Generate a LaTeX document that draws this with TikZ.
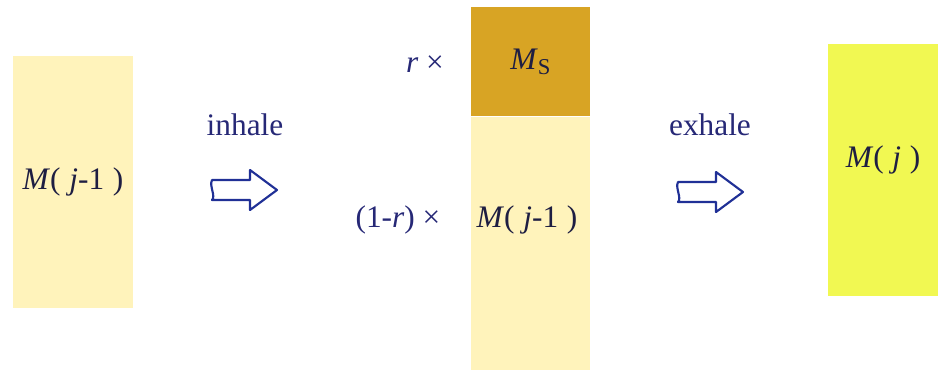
\documentclass[tikz,border=0pt]{standalone}
\usepackage{fontspec}
\setmainfont{Liberation Serif}
\usetikzlibrary{positioning}

\definecolor{paleyellow}{RGB}{255,243,187}
\definecolor{goldbox}{RGB}{216,164,36}
\definecolor{limeyellow}{RGB}{241,248,82}
\definecolor{labelblue}{RGB}{38,40,118}
\definecolor{mathnavy}{RGB}{30,30,66}
\definecolor{arrowblue}{RGB}{32,48,150}

\tikzset{
  block/.style={inner sep=0pt,font=\fontsize{23.5}{28}\selectfont,text=mathnavy},
  tag/.style={inner sep=0pt,font=\fontsize{23.5}{28}\selectfont,text=labelblue},
  fatarrow/.pic={
    \draw[arrowblue,line width=1.6pt,line join=round,fill=white]
      (-32,-10) -- (6,-10) -- (6,-20) -- (33,0) -- (6,20) -- (6,10) -- (-32,10)
      .. controls (-28,6) and (-35,-4) .. cycle;
  }
}

\begin{document}
\begin{tikzpicture}[x=0.75pt,y=-0.75pt]
  \useasboundingbox (0,0) rectangle (938,369);

  % boxes
  \node[block,fill=paleyellow,minimum width=90pt,minimum height=189pt]
    (old) at (73,182) {\textit{M}(\;\textit{j}-1\;)};
  \node[block,fill=goldbox,minimum width=89.25pt,minimum height=81.75pt]
    (ms) at (530.5,61.5) {\textit{M}\raisebox{-0.35ex}{\fontsize{17}{20}\selectfont S}};
  \node[block,fill=paleyellow,minimum width=89.25pt,minimum height=189.75pt,
    below=0pt of ms] (rest) {};
  \node[block] (restlbl) at (527,220) {\textit{M}(\;\textit{j}-1\;)};
  \node[block,fill=limeyellow,minimum width=82.5pt,minimum height=189pt]
    (new) at (883,170) {};
  \node[block] (newlbl) at (883,160) {\textit{M}(\;\textit{j}\;)};

  % factors
  \node[tag] (rfac) at (425,64) {\textit{r} ×};
  \node[tag] (qfac) at (398,220) {(1-\textit{r}) ×};

  % steps
  \node[tag] (inhale) at (245,125) {inhale};
  \node[tag] (exhale) at (710,125) {exhale};
  \pic at (244,190) {fatarrow};
  \pic at (710,192) {fatarrow};
\end{tikzpicture}
\end{document}
